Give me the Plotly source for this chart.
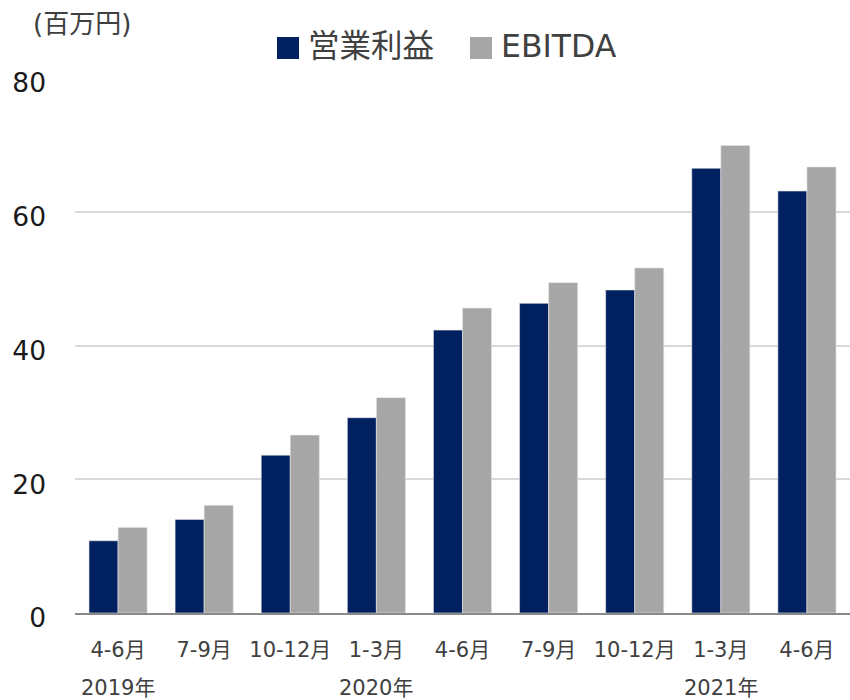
import plotly.graph_objects as go

categories = ["4-6月", "7-9月", "10-12月", "1-3月", "4-6月", "7-9月", "10-12月", "1-3月", "4-6月"]
years = ["2019年", "2020年", "2020年", "2020年", "2020年", "2020年", "2020年", "2021年", "2021年"]
operating_profit = [10.8, 14.0, 23.6, 29.2, 42.3, 46.3, 48.3, 66.5, 63.1]
ebitda = [12.8, 16.1, 26.6, 32.2, 45.6, 49.4, 51.6, 69.9, 66.7]
series_names = ["営業利益", "EBITDA"]
year_labels = [(0, "2019年"), (3, "2020年"), (7, "2021年")]
y_ticks = [0, 20, 40, 60, 80]

NAVY = "#002060"
GRAY = "#a6a6a6"
FONT = "DejaVu Sans, Noto Sans CJK JP, sans-serif"
TXT = "#404040"

x_idx = list(range(len(categories)))

fig = go.Figure()
fig.add_bar(x=x_idx, y=operating_profit, name=series_names[0],
            marker=dict(color=NAVY, line=dict(color="#e6e6e6", width=0.6)))
fig.add_bar(x=x_idx, y=ebitda, name=series_names[1],
            marker=dict(color=GRAY, line=dict(color="#e6e6e6", width=0.6)))

L, R, T, B = 75, 0, 78, 87
W, H = 850, 700
pw, ph = W - L - R, H - T - B

def px_x(px):
    return (px - L) / pw

def px_y(py):
    return (H - B - py) / ph

# custom legend
legend_items = [(277, series_names[0], NAVY), (470, series_names[1], GRAY)]
shapes = []
annotations = []
for x0, name, col in legend_items:
    shapes.append(dict(type="rect", xref="paper", yref="paper",
                       x0=px_x(x0), x1=px_x(x0 + 22), y0=px_y(59), y1=px_y(37),
                       fillcolor=col, line=dict(width=0)))
    annotations.append(dict(xref="paper", yref="paper", x=px_x(x0 + 29), y=px_y(46),
                            text=name, showarrow=False, xanchor="left", yanchor="middle",
                            font=dict(family=FONT, size=31.5, color=TXT)))

annotations.append(dict(xref="paper", yref="paper", x=px_x(31), y=px_y(24),
                        text="(百万円)", showarrow=False, xanchor="left", yanchor="middle",
                        font=dict(family=FONT, size=26, color=TXT)))

for i, lab in year_labels:
    annotations.append(dict(xref="x", yref="paper", x=i, y=px_y(688),
                            text=lab, showarrow=False, xanchor="center", yanchor="middle",
                            font=dict(family=FONT, size=21, color=TXT)))

fig.update_layout(
    width=W, height=H,
    margin=dict(l=L, r=R, t=T, b=B, autoexpand=False),
    paper_bgcolor="white", plot_bgcolor="white",
    barmode="group", bargap=0.325, bargroupgap=0,
    showlegend=False,
    shapes=shapes, annotations=annotations,
    font=dict(family=FONT, color=TXT),
)
fig.update_xaxes(
    tickmode="array", tickvals=x_idx, ticktext=categories,
    range=[-0.5, len(categories) - 0.5],
    showgrid=False, showline=True, linecolor="#898989", linewidth=2,
    ticks="", tickfont=dict(family=FONT, size=21, color=TXT),
    ticklabelstandoff=17, automargin=False,
)
fig.update_yaxes(
    range=[0, 80], tickvals=y_ticks,
    showgrid=True, gridcolor="#d9d9d9", gridwidth=1.5,
    zeroline=False, showline=False, ticks="",
    tickfont=dict(family=FONT, size=26.5, color="#1a1a1a"),
    ticklabelstandoff=28, ticklabelshift=5, automargin=False,
)

fig.write_html("out.html",
               config={"displayModeBar": False},
               post_script="document.body.style.margin='0';document.body.style.padding='0';")
